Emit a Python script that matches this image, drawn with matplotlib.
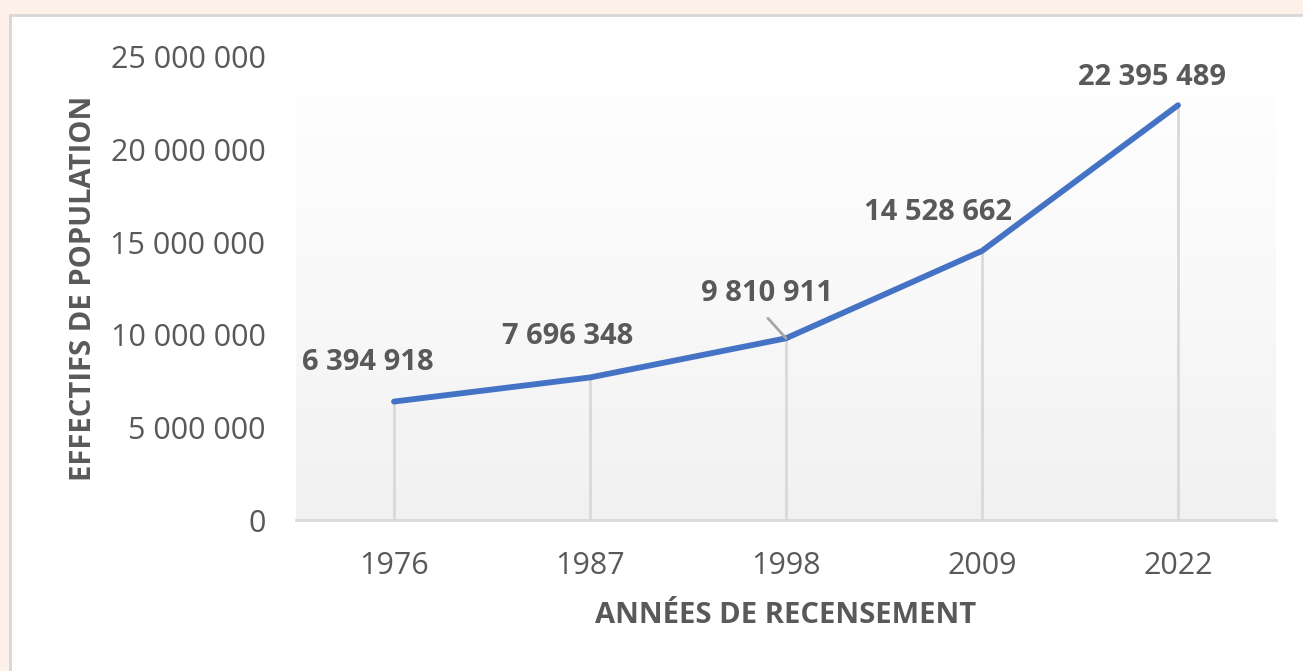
import numpy as np
import matplotlib
matplotlib.use("Agg")
from matplotlib import pyplot as plt
from matplotlib.patches import Rectangle
from matplotlib.ticker import FuncFormatter, MultipleLocator

years = ["1976", "1987", "1998", "2009", "2022"]
population = [6394918, 7696348, 9810911, 14528662, 22395489]
y_label = "EFFECTIFS DE POPULATION"
x_label = "ANNÉES DE RECENSEMENT"

# label offsets (pixels) as placed in the original chart
label_offsets = [(-26, 39), (-22, 41), (-19, 45), (-44, 38), (-26, 28)]

TEXT = "#595959"
LINE = "#4472C4"
GRID = "#d9d9d9"

plt.rcParams["font.family"] = ["Open Sans", "DejaVu Sans"]


def fmt_space(v: float, _pos=None) -> str:
    return f"{int(v):,}".replace(",", " ")


fig = plt.figure(figsize=(13.03, 6.71), dpi=100)
fig.patch.set_facecolor("#fdf1ea")

# white chart frame
fig.patches.append(
    Rectangle(
        (10 / 1303, -0.1), 1.1, 1 - 15 / 671 + 0.1,
        transform=fig.transFigure, facecolor="white",
        edgecolor="#d6d6d6", linewidth=2, zorder=-10,
    )
)

ax = fig.add_axes([296 / 1303, 1 - 520 / 671, 980 / 1303, 463 / 671])
ax.set_facecolor("none")

x = np.arange(len(years))
ax.set_xlim(-0.5, len(years) - 0.5)
ax.set_ylim(0, 25_000_000)

# vertical gradient background of the plot area
grad = np.linspace(1.0, 0.0, 256).reshape(-1, 1)
ax.imshow(
    grad, extent=(-0.5, len(years) - 0.5, 0, 25_000_000), aspect="auto",
    cmap=matplotlib.colors.LinearSegmentedColormap.from_list(
        "bg", ["#f1f1f1", "#f9f9f9", "#ffffff"]
    ),
    vmin=0, vmax=1, zorder=0, origin="upper",
)

# drop lines
ax.vlines(x, 0, population, color=GRID, linewidth=2, zorder=1)

ax.plot(x, population, color=LINE, linewidth=4.2, solid_capstyle="round", zorder=3)

for xi, val, (dx, dy) in zip(x, population, label_offsets):
    ax.annotate(
        fmt_space(val), (xi, val), xytext=(dx, dy), textcoords="offset pixels",
        ha="center", va="center", fontsize=21, fontweight="bold", color=TEXT,
        zorder=4,
    )

# leader line for the 1998 label
ax.annotate(
    "", (x[2], population[2]), xytext=(-18, 20), textcoords="offset pixels",
    arrowprops=dict(arrowstyle="-", color="#a6a6a6", lw=2, shrinkA=0, shrinkB=0),
)

ax.yaxis.set_major_locator(MultipleLocator(5_000_000))
ax.yaxis.set_major_formatter(FuncFormatter(fmt_space))
ax.set_xticks(x, years)

for side in ("left", "top", "right"):
    ax.spines[side].set_visible(False)
ax.spines["bottom"].set_color(GRID)
ax.spines["bottom"].set_linewidth(2)

ax.tick_params(axis="both", length=0, labelsize=22, colors=TEXT)
ax.tick_params(axis="y", pad=22)
ax.tick_params(axis="x", pad=22)

ax.set_ylabel(y_label, fontsize=21, fontweight="bold", color=TEXT, labelpad=9)
ax.set_xlabel(x_label, fontsize=21, fontweight="bold", color=TEXT, labelpad=15)

fig.savefig("out.png", dpi=100, facecolor=fig.get_facecolor())
